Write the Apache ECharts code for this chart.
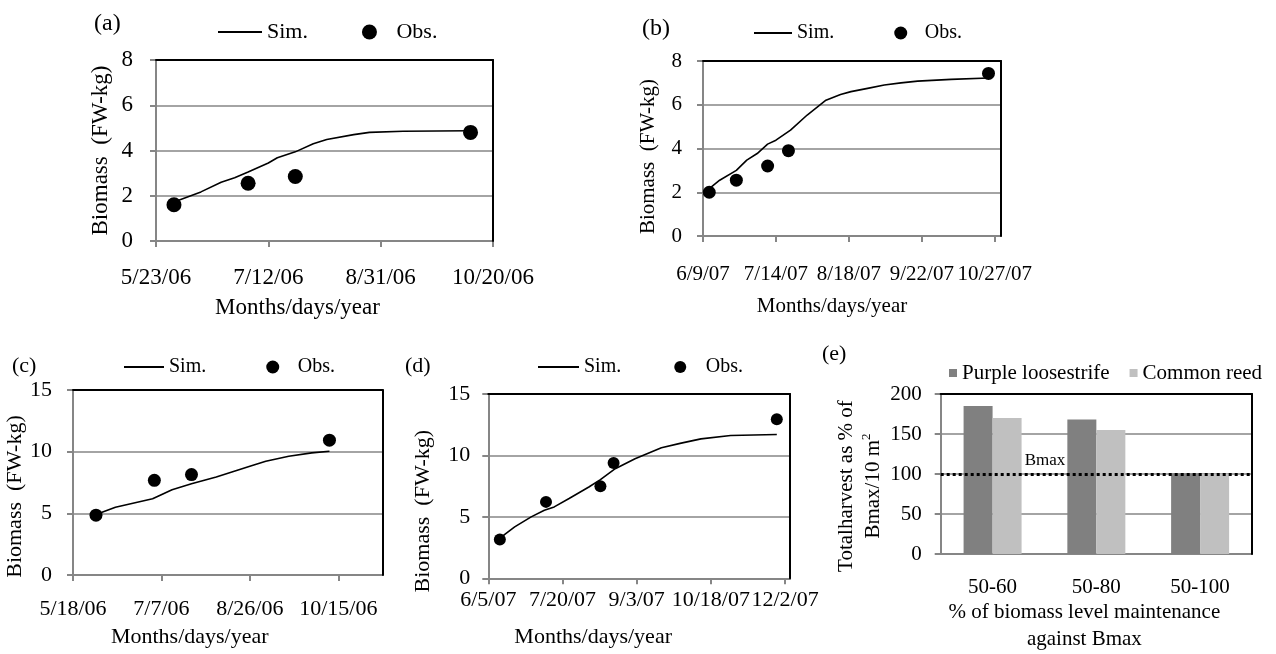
<!DOCTYPE html>
<html>

<head>
    <meta charset="utf-8">
    <script type="text/javascript" src="https://cdn.jsdelivr.net/npm/echarts@6/dist/echarts.min.js"></script>
    <title>Biomass sim/obs</title>
    <style>html, body { margin: 0; padding: 0; background: #fff; }</style>
</head>

<body>
    <div id="container" style="width:1276px;height:654px;"></div>
    <script type="text/javascript">
    // ---- data ----
    // (a)
    var ticksA = ['5/23/06', '7/12/06', '8/31/06', '10/20/06'];
    var simDatesA = ['5/31/06', '6/12/06', '6/21/06', '6/27/06', '7/3/06', '7/12/06', '7/16/06', '7/24/06', '8/1/06', '8/7/06', '8/19/06', '8/26/06', '9/10/06', '10/10/06'];
    var simValuesA = [1.72, 2.17, 2.6, 2.8, 3.05, 3.45, 3.68, 3.94, 4.3, 4.49, 4.7, 4.8, 4.85, 4.87];
    var obsDatesA = ['5/31/06', '7/3/06', '7/24/06', '10/10/06'];
    var obsValuesA = [1.6, 2.55, 2.85, 4.8];

    // (b)
    var ticksB = ['6/9/07', '7/14/07', '8/18/07', '9/22/07', '10/27/07'];
    var simDatesB = ['6/12/07', '6/17/07', '6/25/07', '6/30/07', '7/5/07', '7/10/07', '7/14/07', '7/21/07', '7/29/07', '8/7/07', '8/14/07', '8/19/07', '8/27/07', '9/4/07', '9/12/07', '9/20/07', '10/6/07', '10/24/07'];
    var simValuesB = [2.17, 2.55, 3.0, 3.47, 3.77, 4.2, 4.38, 4.84, 5.53, 6.21, 6.47, 6.6, 6.75, 6.9, 7.0, 7.08, 7.16, 7.22];
    var obsDatesB = ['6/12/07', '6/25/07', '7/10/07', '7/20/07', '10/24/07'];
    var obsValuesB = [2.0, 2.55, 3.2, 3.9, 7.43];

    // (c)
    var ticksC = ['5/18/06', '7/7/06', '8/26/06', '10/15/06'];
    var simDatesC = ['5/31/06', '6/11/06', '7/2/06', '7/6/06', '7/13/06', '7/24/06', '8/7/06', '8/26/06', '9/4/06', '9/17/06', '9/30/06', '10/10/06'];
    var simValuesC = [4.9, 5.5, 6.18, 6.45, 6.92, 7.4, 7.95, 8.81, 9.22, 9.63, 9.9, 10.03];
    var obsDatesC = ['5/31/06', '7/3/06', '7/24/06', '10/10/06'];
    var obsValuesC = [4.85, 7.68, 8.14, 10.93];

    // (d)
    var ticksD = ['6/5/07', '7/20/07', '9/3/07', '10/18/07', '12/2/07'];
    var simDatesD = ['6/13/07', '6/21/07', '7/1/07', '7/9/07', '7/15/07', '7/24/07', '8/5/07', '8/12/07', '8/21/07', '9/2/07', '9/18/07', '9/30/07', '10/12/07', '10/30/07', '11/27/07'];
    var simValuesD = [3.38, 4.19, 5.0, 5.54, 5.81, 6.49, 7.43, 8.03, 8.92, 9.73, 10.62, 11.0, 11.35, 11.62, 11.7];
    var obsDatesD = ['6/12/07', '7/10/07', '8/12/07', '8/20/07', '11/27/07'];
    var obsValuesD = [3.16, 6.22, 7.49, 9.38, 12.94];

    // (e)
    var harvestCats = ['50-60', '50-80', '50-100'];
    var purpleValues = [185, 168, 101];
    var reedValues = [170, 155, 100];
    var bmaxLevel = 100;

    // ---- helpers ----
    var FONT = 'Liberation Serif';
    var GRAY = '#868686';

    function toDay(s) {
        var p = s.split('/');
        return Date.UTC(2000 + Number(p[2]), Number(p[0]) - 1, Number(p[1])) / 86400000;
    }

    function fmtDay(d) {
        var t = new Date(Math.round(d) * 86400000);
        return (t.getUTCMonth() + 1) + '/' + t.getUTCDate() + '/' + String(t.getUTCFullYear()).slice(2);
    }

    var myChart = echarts.init(document.getElementById('container'));

    var option = {
        animation: false,
        textStyle: { fontFamily: FONT, color: '#000' },
        title: [],
        legend: [],
        grid: [],
        xAxis: [],
        yAxis: [],
        series: []
    };

    // black frame on top / right of each plot
    function addFrame(gi) {
        option.xAxis.push({
            gridIndex: gi, type: 'value', position: 'top', min: 0, max: 1, z: 5,
            axisLine: { onZero: false, lineStyle: { color: '#000', width: 2 } },
            axisTick: { show: false }, axisLabel: { show: false }, splitLine: { show: false }
        });
        option.yAxis.push({
            gridIndex: gi, type: 'value', position: 'right', min: 0, max: 1, z: 5,
            axisLine: { show: true, onZero: false, lineStyle: { color: '#000', width: 2 } },
            axisTick: { show: false }, axisLabel: { show: false }, splitLine: { show: false }
        });
    }

    function addLinePanel(p) {
        var gi = option.grid.length;
        var base = toDay(p.ticks[0]);
        var tickVals = p.ticks.map(function (s) { return toDay(s) - base; });

        option.grid.push({ left: p.box[0], top: p.box[1], width: p.box[2], height: p.box[3] });

        option.title.push({
            text: p.label, left: p.labelPos[0], top: p.labelPos[1], padding: 0,
            textStyle: { fontFamily: FONT, fontSize: p.labelFs, fontWeight: 'normal', color: '#000' }
        });

        option.legend.push({
            data: [{ name: 'Sim.', itemStyle: { opacity: 0 } }, 'Obs.'],
            left: p.legendPos[0], top: p.legendPos[1], padding: 0,
            itemWidth: p.legendW, itemHeight: p.dot, itemGap: p.legendGap, selectedMode: false,
            textStyle: { fontFamily: FONT, fontSize: p.legendFs, color: '#000' }
        });

        var xi = option.xAxis.length;
        var yi = option.yAxis.length;

        option.xAxis.push({
            gridIndex: gi, type: 'value', min: 0, max: p.span, interval: tickVals[1],
            name: 'Months/days/year', nameLocation: 'middle', nameGap: p.xNameGap,
            nameTextStyle: { fontFamily: FONT, fontSize: p.fs, color: '#000', padding: [0, p.xNameShift, 0, 0] },
            axisLine: { onZero: false, lineStyle: { color: GRAY, width: 2 } },
            axisTick: { customValues: tickVals, length: 6, lineStyle: { color: GRAY, width: 2 } },
            axisLabel: {
                customValues: tickVals, margin: p.xLabelMargin, fontFamily: FONT, fontSize: p.fs, color: '#000',
                showMinLabel: true, showMaxLabel: true, hideOverlap: false,
                formatter: function (v) { return fmtDay(v + base); }
            },
            splitLine: { show: false }
        });
        option.yAxis.push({
            gridIndex: gi, type: 'value', min: 0, max: p.yMax, interval: p.yStep,
            name: 'Biomass  (FW-kg)', nameLocation: 'middle', nameGap: p.yNameGap,
            nameTextStyle: { fontFamily: FONT, fontSize: p.fs, color: '#000', padding: [0, p.yNameShift, 0, 0] },
            axisLine: { show: true, onZero: false, lineStyle: { color: GRAY, width: 2 } },
            axisTick: { show: true, length: 6, lineStyle: { color: GRAY, width: 2 } },
            axisLabel: { margin: p.yLabelMargin, fontFamily: FONT, fontSize: p.fs, color: '#000' },
            splitLine: { lineStyle: { color: GRAY, width: 1.5 } }
        });
        addFrame(gi);

        option.series.push({
            name: 'Sim.', type: 'line', xAxisIndex: xi, yAxisIndex: yi, symbol: 'none', silent: true, z: 3,
            color: '#000', lineStyle: { color: '#000', width: 1.6 },
            data: p.simDates.map(function (d, i) { return [toDay(d) - base, p.simValues[i]]; })
        });
        option.series.push({
            name: 'Obs.', type: 'scatter', xAxisIndex: xi, yAxisIndex: yi, symbol: 'circle', symbolSize: p.dot, silent: true, z: 4,
            itemStyle: { color: '#000', opacity: 1 },
            data: p.obsDates.map(function (d, i) { return [toDay(d) - base, p.obsValues[i]]; })
        });
    }

    addLinePanel({
        label: '(a)', labelPos: [94, 12], labelFs: 24,
        box: [156, 60, 337, 181], span: 150, yMax: 8, yStep: 2, fs: 23,
        legendPos: [217, 21], legendW: 44, legendGap: 54, legendFs: 22, dot: 15,
        xNameGap: 55, xNameShift: 54, xLabelMargin: 25, yNameGap: 44, yNameShift: 0, yLabelMargin: 23,
        ticks: ticksA, simDates: simDatesA, simValues: simValuesA, obsDates: obsDatesA, obsValues: obsValuesA
    });
    addLinePanel({
        label: '(b)', labelPos: [642, 17], labelFs: 24,
        box: [703, 61, 298, 175], span: 143, yMax: 8, yStep: 2, fs: 21,
        legendPos: [753, 23], legendW: 38, legendGap: 60, legendFs: 20, dot: 13,
        xNameGap: 60, xNameShift: 40, xLabelMargin: 28, yNameGap: 44, yNameShift: 16, yLabelMargin: 21,
        ticks: ticksB, simDates: simDatesB, simValues: simValuesB, obsDates: obsDatesB, obsValues: obsValuesB
    });
    addLinePanel({
        label: '(c)', labelPos: [12, 355], labelFs: 22,
        box: [73, 390, 309.5, 185], span: 175, yMax: 15, yStep: 5, fs: 22,
        legendPos: [123, 357], legendW: 40, legendGap: 60, legendFs: 20, dot: 13,
        xNameGap: 51, xNameShift: 76, xLabelMargin: 23, yNameGap: 45, yNameShift: 28, yLabelMargin: 21,
        ticks: ticksC, simDates: simDatesC, simValues: simValuesC, obsDates: obsDatesC, obsValues: obsValuesC
    });
    addLinePanel({
        label: '(d)', labelPos: [405, 355], labelFs: 22,
        box: [488.3, 394, 301.7, 184.3], span: 183, yMax: 15, yStep: 5, fs: 22,
        legendPos: [537, 357], legendW: 41, legendGap: 53, legendFs: 20, dot: 12,
        xNameGap: 48, xNameShift: 92, xLabelMargin: 11, yNameGap: 54, yNameShift: 50, yLabelMargin: 18,
        ticks: ticksD, simDates: simDatesD, simValues: simValuesD, obsDates: obsDatesD, obsValues: obsValuesD
    });

    // (e) harvest bars
    var ge = option.grid.length;
    option.grid.push({ left: 940.7, top: 394, width: 311.3, height: 161.5 });
    option.title.push({
        text: '(e)', left: 822, top: 343, padding: 0,
        textStyle: { fontFamily: FONT, fontSize: 22, fontWeight: 'normal', color: '#000' }
    });
    option.legend.push({
        data: [{ name: 'Purple loosestrife', icon: 'rect' }, { name: 'Common reed', icon: 'rect' }],
        left: 949, top: 362.5, padding: 0, itemWidth: 8, itemHeight: 8, itemGap: 20, selectedMode: false,
        textStyle: { fontFamily: FONT, fontSize: 21, color: '#000' }
    });
    var xe = option.xAxis.length;
    var ye = option.yAxis.length;
    option.xAxis.push({
        gridIndex: ge, type: 'category', data: harvestCats,
        name: '% of biomass level maintenance\nagainst Bmax', nameLocation: 'middle', nameGap: 43.5,
        nameTextStyle: { fontFamily: FONT, fontSize: 21, lineHeight: 27, color: '#000', padding: [0, 24, 0, 0] },
        axisLine: { onZero: false, lineStyle: { color: GRAY, width: 2 } },
        axisTick: { length: 6, lineStyle: { color: GRAY, width: 2 } },
        axisLabel: { margin: 23, fontFamily: FONT, fontSize: 21, color: '#000' }
    });
    option.yAxis.push({
        gridIndex: ge, type: 'value', min: 0, max: 200, interval: 50,
        name: '{a|Totalharvest as % of}\n{a|Bmax/10 m}{s|2}', nameLocation: 'middle', nameGap: 54,
        nameTextStyle: {
            padding: [0, 24, 0, 0],
            rich: {
                a: { fontFamily: FONT, fontSize: 21, lineHeight: 27, color: '#000' },
                s: { fontFamily: FONT, fontSize: 13, lineHeight: 14, verticalAlign: 'top', color: '#000' }
            }
        },
        axisLine: { show: true, onZero: false, lineStyle: { color: GRAY, width: 2 } },
        axisTick: { show: true, length: 6, lineStyle: { color: GRAY, width: 2 } },
        axisLabel: { margin: 19, fontFamily: FONT, fontSize: 21, color: '#000' },
        splitLine: { lineStyle: { color: GRAY, width: 1.5 } }
    });
    addFrame(ge);

    option.series.push({
        name: 'Purple loosestrife', type: 'bar', xAxisIndex: xe, yAxisIndex: ye, barWidth: 29, barGap: '0%',
        itemStyle: { color: '#808080' }, silent: true, data: purpleValues,
        markLine: {
            silent: true, symbol: ['none', 'none'],
            lineStyle: { type: 'dotted', color: '#000', width: 3 },
            label: { formatter: 'Bmax', position: 'insideStartTop', distance: [84, 5], fontFamily: FONT, fontSize: 17, color: '#000' },
            data: [{ yAxis: bmaxLevel }]
        }
    });
    option.series.push({
        name: 'Common reed', type: 'bar', xAxisIndex: xe, yAxisIndex: ye, barWidth: 29, barGap: '0%',
        itemStyle: { color: '#c0c0c0' }, silent: true, data: reedValues
    });

    myChart.setOption(option);
    </script>
</body>

</html>
